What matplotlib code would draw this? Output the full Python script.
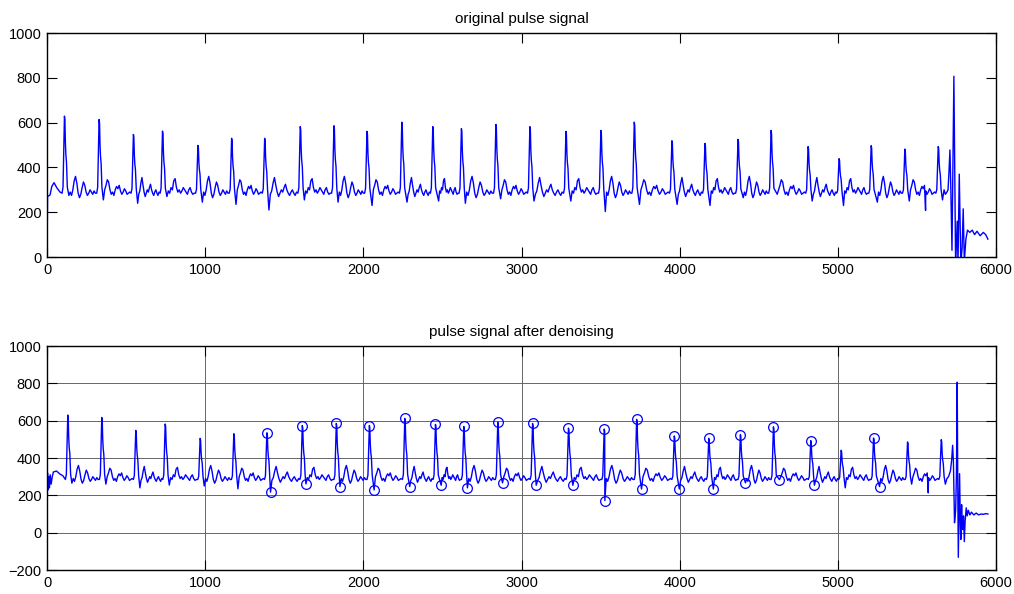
import numpy as np
import matplotlib.pyplot as plt

plt.rcParams['font.family'] = ['Liberation Sans', 'DejaVu Sans']

# ---- original pulse signal (top) ----
top_peak_t = [110, 329, 546, 730, 954, 1167, 1376, 1601, 1814, 2023, 2243, 2439, 2620, 2838,
              3053, 3281, 3502, 3713, 3951, 4160, 4369, 4578, 4812, 5008, 5211, 5424, 5635]
top_peak_v = [629, 614, 547, 562, 498, 530, 530, 582, 586, 561, 602, 582, 573, 592,
              582, 561, 565, 602, 519, 507, 525, 565, 493, 439, 497, 482, 493]
top_trough_t = [138, 356, 573, 758, 982, 1195, 1403, 1627, 1840, 2055, 2276, 2476, 2645, 2868,
                3079, 3312, 3530, 3746, 3984, 4192, 4402, 4617, 4838, 5036, 5250, 5452, 5662]
top_trough_v = [275, 255, 240, 270, 245, 235, 210, 255, 245, 230, 245, 250, 240, 260,
                250, 250, 203, 235, 235, 230, 265, 280, 250, 230, 245, 250, 255]
top_head_t = [0, 3, 19, 30, 44, 61, 82]
top_head_v = [0, 270, 277, 315, 332, 310, 290]
top_tail_t = [5672, 5680, 5690, 5697, 5703, 5709, 5714, 5722, 5734, 5745, 5755, 5760, 5768, 5778,
              5786, 5793, 5800, 5810, 5820, 5835, 5850, 5865, 5880, 5900, 5920, 5935, 5949]
top_tail_v = [300, 280, 290, 300, 380, 478, 330, 30, 807, -40, 160, -30, 370, -30,
              40, 215, -20, 80, 120, 110, 120, 100, 115, 95, 110, 100, 80]
top_extra_t = [5555]
top_extra_v = [208]

# ---- pulse signal after denoising (bottom) ----
bot_peak_t = [131, 346, 561, 747, 968, 1181, 1390, 1614, 1829, 2038, 2262, 2456, 2635, 2850,
              3070, 3297, 3523, 3728, 3966, 4184, 4384, 4593, 4829, 5021, 5226, 5441, 5654]
bot_peak_v = [630, 617, 548, 582, 505, 530, 535, 574, 585, 574, 612, 580, 569, 592,
              585, 560, 555, 607, 518, 505, 525, 567, 493, 441, 507, 486, 498]
bot_trough_t = [157, 372, 587, 773, 994, 1207, 1413, 1637, 1852, 2068, 2293, 2492, 2658, 2880,
                3093, 3325, 3527, 3759, 3998, 4213, 4416, 4631, 4852, 5047, 5264, 5467, 5680]
bot_trough_v = [265, 260, 240, 255, 250, 235, 217, 261, 247, 229, 247, 254, 240, 267,
                254, 254, 172, 234, 234, 234, 267, 284, 254, 240, 247, 260, 260]
bot_head_t = [0, 3, 7, 11, 15, 20, 26, 33, 40, 60, 80, 100]
bot_head_v = [0, 320, 230, 300, 240, 310, 260, 300, 325, 330, 315, 305]
bot_tail_t = [5690, 5700, 5712, 5720, 5726, 5731, 5738, 5745, 5750, 5755, 5759, 5762, 5766, 5770,
              5775, 5778, 5783, 5786, 5790, 5795, 5800, 5805, 5812, 5818, 5825, 5835, 5845,
              5860, 5875, 5890, 5905, 5920, 5935, 5949]
bot_tail_v = [290, 300, 330, 390, 468, 380, 53, 120, 300, 806, 200, -132, 100, 316,
              40, -36, 150, 30, 17, 90, -48, 60, 133, 90, 120, 95, 110,
              95, 105, 95, 100, 98, 102, 100]
bot_extra_t = [5572]
bot_extra_v = [213]
# beats whose peak and trough are circled
marked = list(range(6, 23)) + [24]

# pulse shape around each peak: (offset, fraction of amplitude above baseline)
pulse_dt = [-15, -9, -6, -4, -2, 0, 3, 6, 9, 13, 18]
pulse_fr = [0.0, 0.08, 0.4, 0.55, 0.9, 1.0, 0.95, 0.65, 0.5, 0.4, 0.08]
# wiggles between trough and next beat
fill_pats = [
    [290, 275, 300, 340, 360, 330, 285, 265, 280, 310, 335, 320, 290, 275, 285, 300, 290, 280, 295, 285],
    [300, 320, 345, 335, 300, 280, 290, 275, 300, 315, 305, 320, 295, 280, 290, 305, 295, 280, 285, 290],
    [280, 295, 330, 355, 320, 290, 270, 285, 300, 290, 310, 325, 300, 285, 275, 290, 300, 285, 275, 290],
    [295, 285, 310, 300, 340, 350, 310, 290, 300, 285, 295, 310, 300, 290, 280, 300, 310, 290, 280, 285],
]
BASE = 285


def build(head_t, head_v, pk_t, pk_v, tr_t, tr_v, tail_t, tail_v, ex_t, ex_v):
    t, v = list(head_t), list(head_v)
    n = len(pk_t)
    for i in range(n):
        amp = pk_v[i] - BASE
        for dt, fr in zip(pulse_dt, pulse_fr):
            tt = pk_t[i] + dt
            if dt > 0 and tt >= tr_t[i]:
                break
            t.append(tt)
            v.append(BASE + fr * amp)
        t.append(tr_t[i])
        v.append(tr_v[i])
        end = pk_t[i + 1] + pulse_dt[0] if i < n - 1 else tail_t[0]
        span = end - tr_t[i]
        if span > 40:
            pat = fill_pats[i % len(fill_pats)]
            for k, val in enumerate(pat):
                t.append(tr_t[i] + span * (k + 1) / (len(pat) + 1))
                v.append(val)
    t += tail_t + ex_t
    v += tail_v + ex_v
    order = np.argsort(t, kind='stable')
    return np.array(t)[order], np.array(v)[order]


x1, y1 = build(top_head_t, top_head_v, top_peak_t, top_peak_v, top_trough_t, top_trough_v,
               top_tail_t, top_tail_v, top_extra_t, top_extra_v)
x2, y2 = build(bot_head_t, bot_head_v, bot_peak_t, bot_peak_v, bot_trough_t, bot_trough_v,
               bot_tail_t, bot_tail_v, bot_extra_t, bot_extra_v)

fig = plt.figure(figsize=(10.14, 5.94), dpi=100)
ax1 = fig.add_axes([0.0464, 0.5673, 0.9358, 0.3771])
ax2 = fig.add_axes([0.0464, 0.0404, 0.9358, 0.3771])

ax1.plot(x1, y1, color='#0000ff', lw=1.0)
ax1.set_ylim(0, 1000)
ax1.set_title('original pulse signal', fontsize=11, pad=7)

ax2.plot(x2, y2, color='#0000ff', lw=1.0)
ax2.plot([bot_peak_t[i] for i in marked], [bot_peak_v[i] for i in marked], 'o',
         mfc='none', mec='#0000ff', ms=7, mew=0.9)
ax2.plot([bot_trough_t[i] for i in marked], [bot_trough_v[i] for i in marked], 'o',
         mfc='none', mec='#0000ff', ms=7, mew=0.9)
ax2.set_ylim(-200, 1000)
ax2.set_title('pulse signal after denoising', fontsize=11, pad=7)
ax2.grid(True, color='0.4', lw=0.7)

for ax in (ax1, ax2):
    ax.set_xlim(0, 6000)
    ax.set_xticks(np.arange(0, 6001, 1000))
    ax.tick_params(direction='in', top=True, right=True, length=7, width=0.8,
                   labelsize=10.5, pad=4)
    for s in ax.spines.values():
        s.set_linewidth(1.0)
    ax.set_axisbelow(True)

fig.savefig('out.png', dpi=100)
